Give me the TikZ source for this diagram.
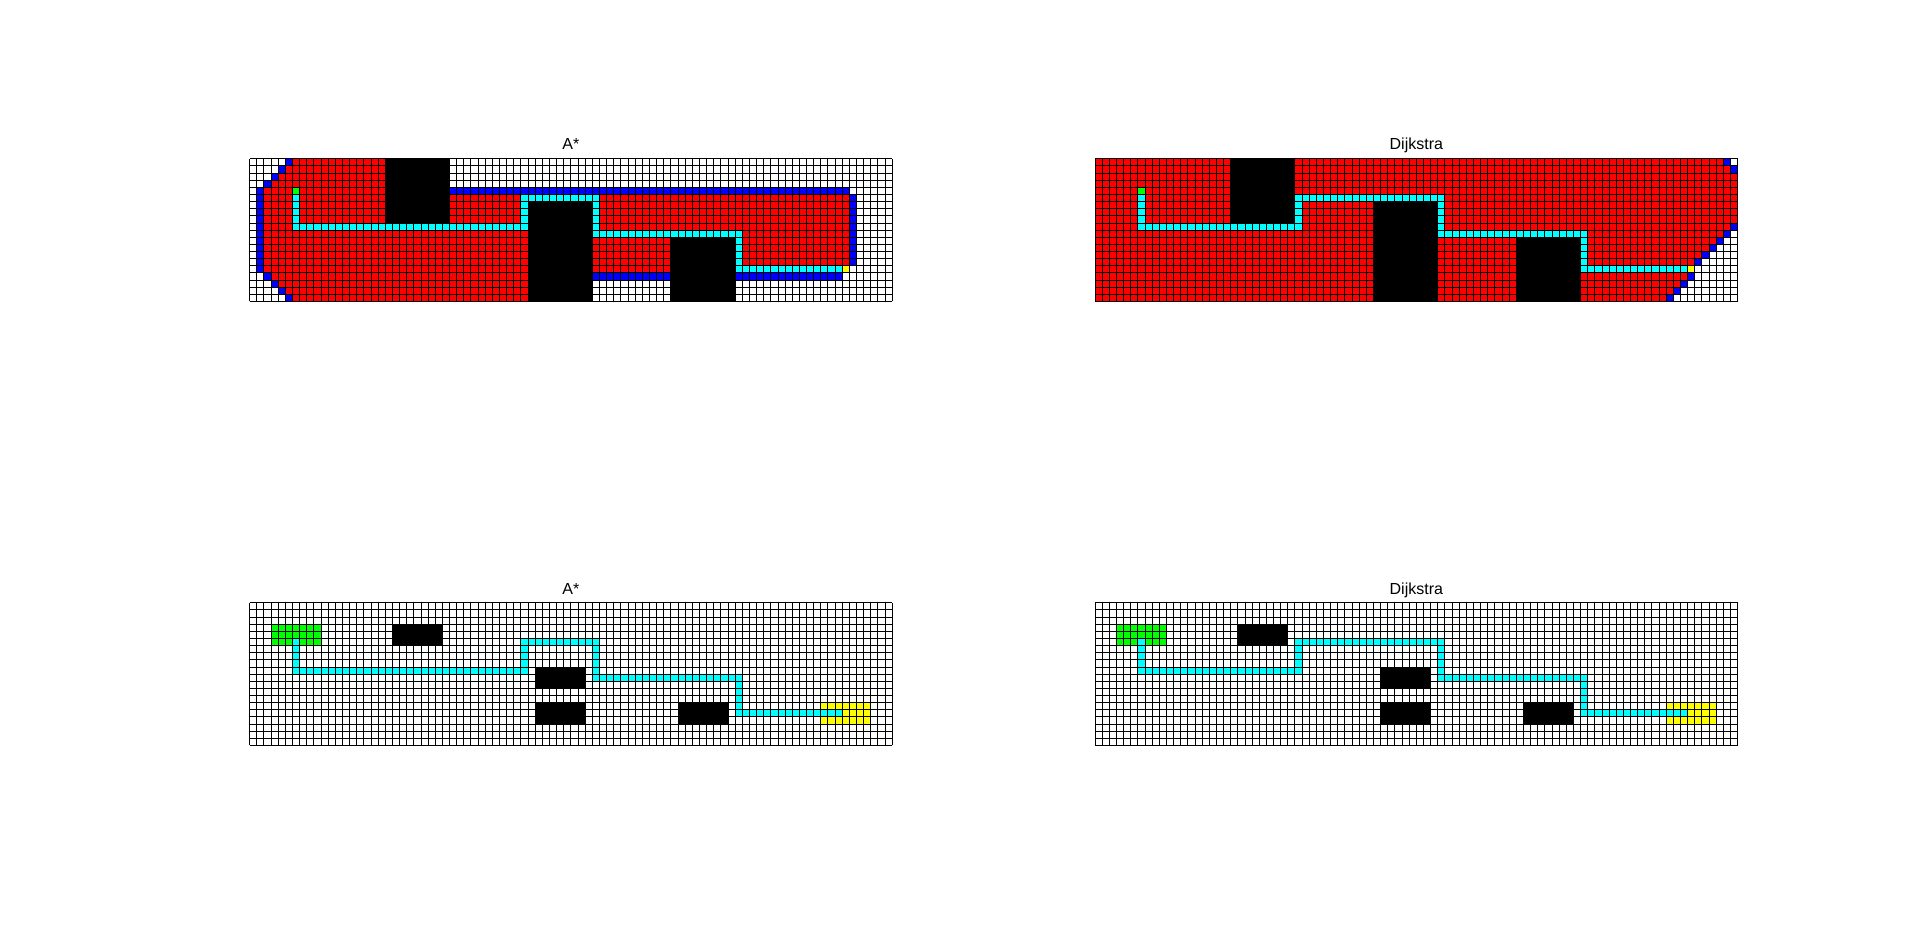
\documentclass[tikz,border=0pt]{standalone}
\usepackage{fontspec}
\setmainfont{Liberation Sans}
\definecolor{visitred}{RGB}{255,0,0}
\definecolor{openblue}{RGB}{0,0,255}
\definecolor{pathcyan}{RGB}{0,255,255}
\definecolor{startgreen}{RGB}{0,255,0}
\definecolor{goalyellow}{RGB}{255,255,0}
\newcommand{\cellblock}[5]{\fill[#1] (#2,19-#5) rectangle (#4+1,20-#3);}
\newcommand{\bigobstacles}{\cellblock{black}{19}{0}{27}{8}\cellblock{black}{39}{6}{47}{19}\cellblock{black}{59}{11}{67}{19}}
\newcommand{\smallobstacles}{\cellblock{black}{20}{3}{26}{5}\cellblock{black}{40}{9}{46}{11}\cellblock{black}{40}{14}{46}{16}\cellblock{black}{60}{14}{66}{16}}
\newcommand{\route}[1]{\cellblock{pathcyan}{6}{5}{6}{9}\cellblock{pathcyan}{6}{9}{#1}{9}\cellblock{pathcyan}{#1}{5}{#1}{9}\cellblock{pathcyan}{#1}{5}{48}{5}\cellblock{pathcyan}{48}{5}{48}{10}\cellblock{pathcyan}{48}{10}{68}{10}\cellblock{pathcyan}{68}{10}{68}{15}\cellblock{pathcyan}{68}{15}{82}{15}}
\newcommand{\gridlines}{\foreach \c in {0,...,90} \draw[gridline] (\c,0) -- (\c,20); \foreach \r in {0,...,20} \draw[gridline] (0,\r) -- (90,\r);}

\begin{document}
\begin{tikzpicture}[x=1pt, y=1pt, gridline/.style={black, line width=0.9pt}, plottitle/.style={font=\fontsize{16}{19}\selectfont, anchor=base}]
	\useasboundingbox (0,0) rectangle (1920,937);
	\fill[white] (0,0) rectangle (1920,937);
	\begin{scope}[shift={(249.6pt,635.5pt)}, x=7.14pt, y=7.14pt]
		\cellblock{visitred}{2}{5}{83}{15}
		\cellblock{visitred}{2}{4}{18}{4}
		\foreach \r/\a in {0/6,1/5,2/4,3/3} {\cellblock{visitred}{\a}{\r}{18}{\r}\cellblock{openblue}{\a-1}{\r}{\a-1}{\r}}
		\foreach \r/\a in {16/3,17/4,18/5,19/6} {\cellblock{visitred}{\a}{\r}{38}{\r}\cellblock{openblue}{\a-1}{\r}{\a-1}{\r}}
		\cellblock{openblue}{1}{4}{1}{15}
		\cellblock{openblue}{28}{4}{83}{4}
		\cellblock{openblue}{84}{5}{84}{14}
		\cellblock{openblue}{48}{16}{58}{16}
		\cellblock{openblue}{68}{16}{82}{16}
		\bigobstacles
		\route{38}
		\cellblock{startgreen}{6}{4}{6}{4}
		\cellblock{goalyellow}{83}{15}{83}{15}
		\gridlines
	\end{scope}
	\begin{scope}[shift={(1095pt,635.5pt)}, x=7.14pt, y=7.14pt]
		\cellblock{visitred}{0}{0}{89}{19}
		\cellblock{white}{89}{0}{89}{0}
		\cellblock{openblue}{88}{0}{88}{0}
		\cellblock{openblue}{89}{1}{89}{1}
		\foreach \r/\a in {10/89,11/88,12/87,13/86,14/85,15/84,16/84,17/83,18/82,19/81} {\cellblock{white}{\a}{\r}{89}{\r}}
		\foreach \r/\a in {9/89,10/88,11/87,12/86,13/85,14/84,16/83,17/82,18/81,19/80} {\cellblock{openblue}{\a}{\r}{\a}{\r}}
		\bigobstacles
		\route{28}
		\cellblock{startgreen}{6}{4}{6}{4}
		\cellblock{goalyellow}{83}{15}{83}{15}
		\gridlines
	\end{scope}
	\begin{scope}[shift={(249.6pt,191.5pt)}, x=7.14pt, y=7.14pt]
		\cellblock{startgreen}{3}{3}{9}{5}
		\cellblock{goalyellow}{80}{14}{86}{16}
		\smallobstacles
		\route{38}
		\gridlines
	\end{scope}
	\begin{scope}[shift={(1095pt,191.5pt)}, x=7.14pt, y=7.14pt]
		\cellblock{startgreen}{3}{3}{9}{5}
		\cellblock{goalyellow}{80}{14}{86}{16}
		\smallobstacles
		\route{28}
		\gridlines
	\end{scope}
	\node[plottitle] (titleAstarTop) at (570.9,787) {A*};
	\node[plottitle] (titleDijkstraTop) at (1416.3,787) {Dijkstra};
	\node[plottitle] (titleAstarBottom) at (570.9,342.3) {A*};
	\node[plottitle] (titleDijkstraBottom) at (1416.3,342.3) {Dijkstra};
\end{tikzpicture}
\end{document}
